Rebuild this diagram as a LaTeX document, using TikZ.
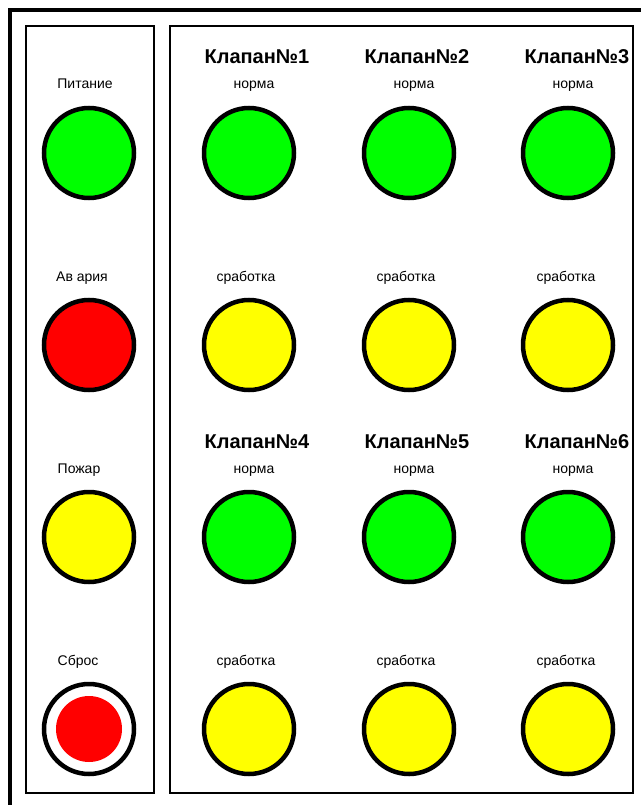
\documentclass[tikz,border=0pt]{standalone}
\usepackage{fontspec}
\setmainfont{Liberation Sans}
\usetikzlibrary{positioning}
\definecolor{lampgreen}{RGB}{0,255,0}
\definecolor{lampred}{RGB}{255,0,0}
\definecolor{lampyellow}{RGB}{255,255,0}
\tikzset{
  lamp/.style={circle, draw=black, line width=4.5pt, minimum size=90pt, inner sep=0pt},
  caption/.style={font=\fontsize{14}{16}\selectfont, inner sep=0pt, anchor=base},
  valve/.style={font=\bfseries\fontsize{20}{23}\selectfont, inner sep=0pt, anchor=base},
  panel/.style={draw=black, line width=1.3pt}
}
\begin{document}
\begin{tikzpicture}[x=1pt, y=-1pt]
\useasboundingbox (0,0) rectangle (640,805);
\draw[line width=4pt] (10,812) -- (10,10) -- (648,10);
\draw[panel] (26,26) rectangle (154,793);
\draw[panel] (170,26) rectangle (633,793);
% left column
\node[lamp, fill=lampgreen] (power) at (89,153) {};
\node[lamp, fill=lampred] (alarm) at (89,345) {};
\node[lamp, fill=lampyellow] (fire) at (89,537) {};
\node[lamp, fill=white] (reset) at (89,729) {};
\node[circle, fill=lampred, minimum size=66pt, inner sep=0pt] (resetbtn) at (reset.center) {};
\node[caption] (powerlbl) at (85,89) {Питание};
\node[caption] (alarmlbl) at (82,281) {Ав ария};
\node[caption] (firelbl) at (79,473) {Пожар};
\node[caption] (resetlbl) at (78,665) {Сброс};
% valves 1-3
\node[valve] (v1) at (257,64) {Клапан№1};
\node[valve] (v2) at (417,64) {Клапан№2};
\node[valve] (v3) at (577,64) {Клапан№3};
\node[caption] (v1ok) at (254,89) {норма};
\node[caption] (v2ok) at (414,89) {норма};
\node[caption] (v3ok) at (573,89) {норма};
\node[lamp, fill=lampgreen] (v1g) at (249,153) {};
\node[lamp, fill=lampgreen] (v2g) at (409,153) {};
\node[lamp, fill=lampgreen] (v3g) at (568,153) {};
\node[caption] (v1trip) at (246,281) {сработка};
\node[caption] (v2trip) at (406,281) {сработка};
\node[caption] (v3trip) at (566,281) {сработка};
\node[lamp, fill=lampyellow] (v1y) at (249,345) {};
\node[lamp, fill=lampyellow] (v2y) at (409,345) {};
\node[lamp, fill=lampyellow] (v3y) at (568,345) {};
% valves 4-6
\node[valve] (v4) at (257,448) {Клапан№4};
\node[valve] (v5) at (417,448) {Клапан№5};
\node[valve] (v6) at (577,448) {Клапан№6};
\node[caption] (v4ok) at (254,473) {норма};
\node[caption] (v5ok) at (414,473) {норма};
\node[caption] (v6ok) at (573,473) {норма};
\node[lamp, fill=lampgreen] (v4g) at (249,537) {};
\node[lamp, fill=lampgreen] (v5g) at (409,537) {};
\node[lamp, fill=lampgreen] (v6g) at (568,537) {};
\node[caption] (v4trip) at (246,665) {сработка};
\node[caption] (v5trip) at (406,665) {сработка};
\node[caption] (v6trip) at (566,665) {сработка};
\node[lamp, fill=lampyellow] (v4y) at (249,729) {};
\node[lamp, fill=lampyellow] (v5y) at (409,729) {};
\node[lamp, fill=lampyellow] (v6y) at (568,729) {};
\end{tikzpicture}
\end{document}
